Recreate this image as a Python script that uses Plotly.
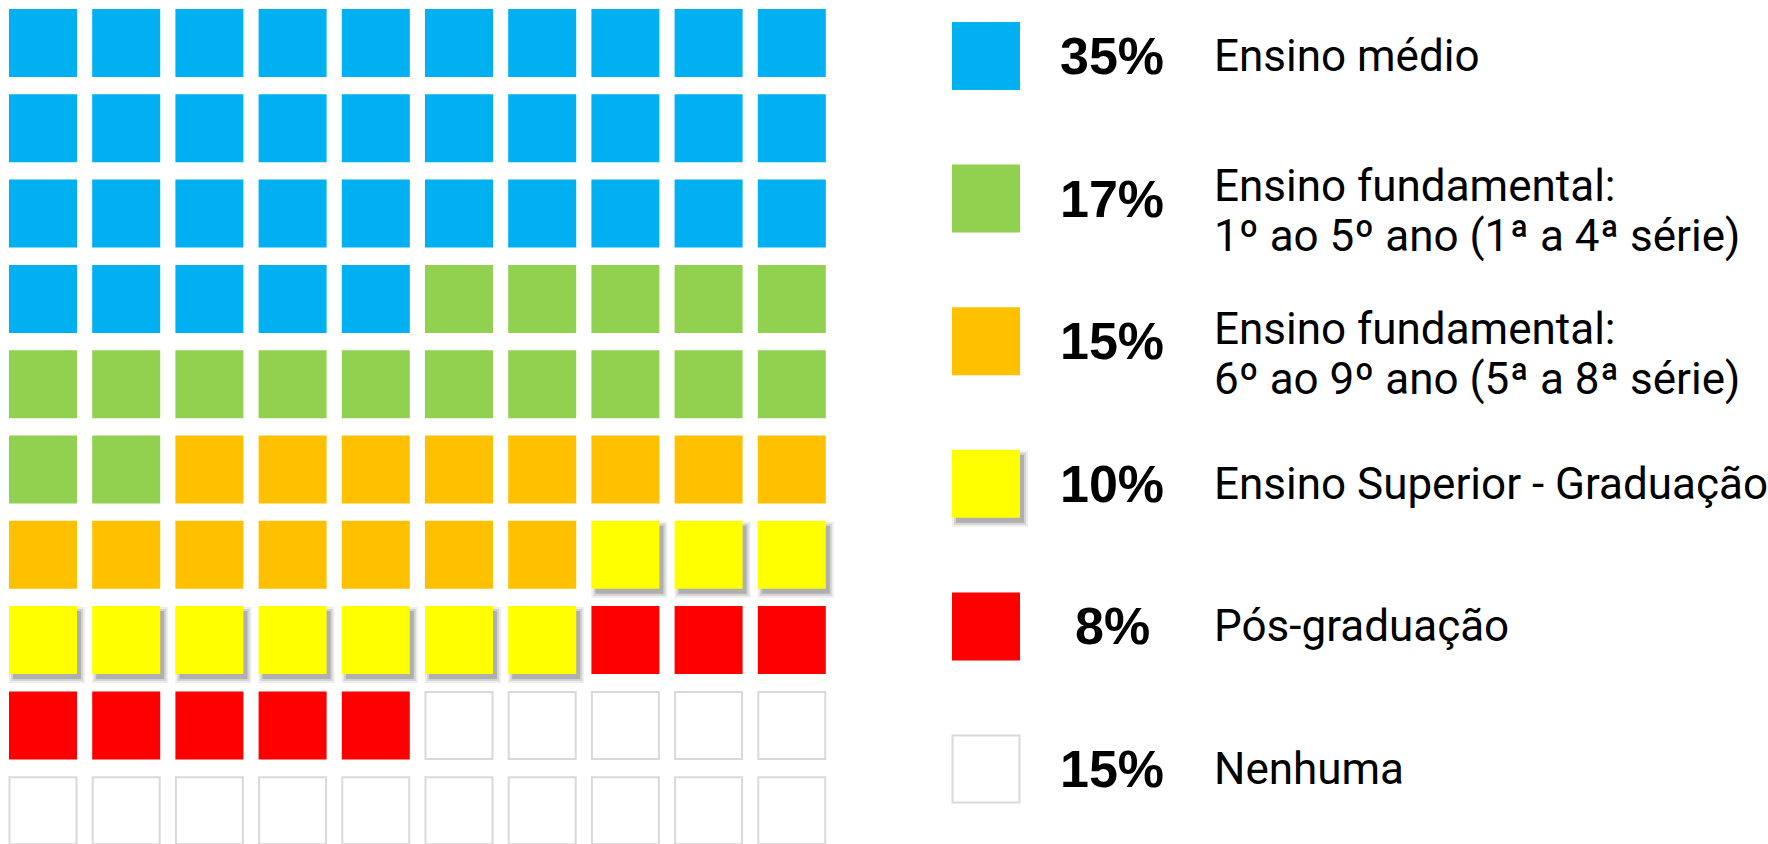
"""Waffle chart: level of education (10 x 10 grid, one cell = 1%)."""
import plotly.graph_objects as go

# ---- data -------------------------------------------------------------
CATEGORIES = [
    "Ensino médio",
    "Ensino fundamental: 1º ao 5º ano",
    "Ensino fundamental: 6º ao 9º ano",
    "Ensino Superior - Graduação",
    "Pós-graduação",
    "Nenhuma",
]
PERCENTS = [35, 17, 15, 10, 8, 15]
LABEL_LINES = [
    ["Ensino médio"],
    ["Ensino fundamental:", "1º ao 5º ano (1ª a 4ª série)"],
    ["Ensino fundamental:", "6º ao 9º ano (5ª a 8ª série)"],
    ["Ensino Superior - Graduação"],
    ["Pós-graduação"],
    ["Nenhuma"],
]

# ---- style ------------------------------------------------------------
FILL = ["#00B0F0", "#92D050", "#FFC000", "#FFFF00", "#FF0000", "#FFFFFF"]
EDGE = [None, None, None, None, None, "#D9D9D9"]
SHADOW = [False, False, False, True, False, False]

W, H = 1768, 844
N_COLS = 10
CELL = 68          # px
COL_PITCH = 83.2   # px
ROW_PITCH = 85.3   # px
GRID_X0 = 43       # px, centre of first column
GRID_Y0 = 43       # px, centre of first row

LEG_Y0 = 56        # px, centre of first legend row
LEG_PITCH = 142.6  # px
LEG_SWATCH_X = 986
LEG_PCT_X = 1112
LEG_LABEL_X = 1212
LABEL_FONT = dict(family="Roboto", size=44, color="#000000")
PCT_FONT = dict(family="Liberation Sans", size=52, color="#000000", weight="bold")

# ---- cells ------------------------------------------------------------
cell_cat = []
for i, p in enumerate(PERCENTS):
    cell_cat += [i] * p
cell_col = [k % N_COLS for k in range(len(cell_cat))]
cell_row = [k // N_COLS for k in range(len(cell_cat))]

fig = go.Figure()

# soft drop shadow (stacked translucent squares)
sdx, sdy = 4 / COL_PITCH, 5 / ROW_PITCH
for grow, alpha in [(8, 0.07), (4, 0.11), (0, 0.17)]:
    xs = [c + sdx for c, k in zip(cell_col, cell_cat) if SHADOW[k]]
    ys = [r + sdy for r, k in zip(cell_row, cell_cat) if SHADOW[k]]
    fig.add_trace(go.Scatter(
        x=xs, y=ys, mode="markers", hoverinfo="skip", showlegend=False,
        marker=dict(symbol="square", size=CELL + grow,
                    color=f"rgba(0,0,0,{alpha})", line_width=0),
    ))
    # legend swatch shadow
    fig.add_trace(go.Scatter(
        x=[LEG_SWATCH_X + 4 for k in range(len(CATEGORIES)) if SHADOW[k]],
        y=[k + 5 / LEG_PITCH for k in range(len(CATEGORIES)) if SHADOW[k]],
        xaxis="x2", yaxis="y2", mode="markers", hoverinfo="skip", showlegend=False,
        marker=dict(symbol="square", size=CELL + grow,
                    color=f"rgba(0,0,0,{alpha})", line_width=0),
    ))

for i, name in enumerate(CATEGORIES):
    xs = [c for c, k in zip(cell_col, cell_cat) if k == i]
    ys = [r for r, k in zip(cell_row, cell_cat) if k == i]
    edge = EDGE[i]
    marker = dict(symbol="square", color=FILL[i],
                  size=CELL - (1 if edge else 0),
                  line=dict(width=2 if edge else 0, color=edge or FILL[i]))
    fig.add_trace(go.Scatter(x=xs, y=ys, mode="markers", name=name,
                             marker=marker, hoverinfo="name", showlegend=False))
    # legend swatch
    fig.add_trace(go.Scatter(x=[LEG_SWATCH_X], y=[i], xaxis="x2", yaxis="y2",
                             mode="markers", marker=marker, hoverinfo="skip",
                             showlegend=False))
    fig.add_annotation(x=LEG_PCT_X, y=i, xref="x2", yref="y2", text=f"{PERCENTS[i]}%",
                       showarrow=False, xanchor="center", yanchor="middle", font=PCT_FONT)
    lines = LABEL_LINES[i]
    for j, line in enumerate(lines):
        shift = (len(lines) - 1) / 2 * 25 - j * 50
        fig.add_annotation(x=LEG_LABEL_X, y=i, xref="x2", yref="y2", text=line,
                           showarrow=False, xanchor="left", yanchor="middle",
                           yshift=shift, font=LABEL_FONT)

hidden = dict(visible=False, showgrid=False, zeroline=False, fixedrange=True)
fig.update_layout(
    width=W, height=H,
    margin=dict(l=0, r=0, t=0, b=0),
    paper_bgcolor="white", plot_bgcolor="white",
    xaxis=dict(range=[-GRID_X0 / COL_PITCH, (W - GRID_X0) / COL_PITCH], **hidden),
    yaxis=dict(range=[(H - GRID_Y0) / ROW_PITCH, -GRID_Y0 / ROW_PITCH], **hidden),
    xaxis2=dict(range=[0, W], overlaying="x", **hidden),
    yaxis2=dict(range=[(H - LEG_Y0) / LEG_PITCH, -LEG_Y0 / LEG_PITCH],
                overlaying="y", **hidden),
    showlegend=False,
)

fig.write_html("out.html", config={"displayModeBar": False},
               post_script="document.body.style.margin='0';")
